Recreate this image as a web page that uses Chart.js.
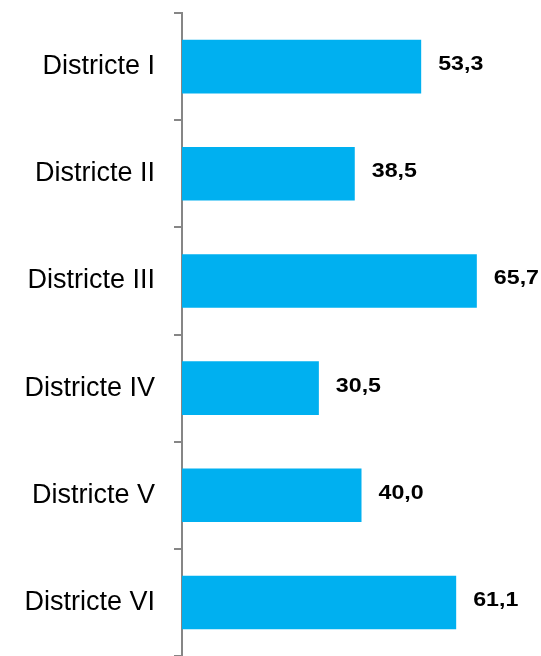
<!DOCTYPE html>
<html>
<head>
<meta charset="utf-8">
<script src="https://cdn.jsdelivr.net/npm/chart.js@4/dist/chart.umd.min.js"></script>
<style>
  html, body { margin:0; padding:0; background:#fff; }
  #wrap { width:541px; height:656px; position:relative; }
</style>
</head>
<body>
<div id="wrap"><canvas id="chart"></canvas></div>
<script>
// --- Données ---
const districts = ['Districte I','Districte II','Districte III','Districte IV','Districte V','Districte VI'];
const valors = [53.3, 38.5, 65.7, 30.5, 40.0, 61.1];
const xMax = 80;

const barColor = '#00B0F0';
const axisColor = '#868686';

// étiquettes de valeur à droite des barres (format 53,3)
const valueLabels = {
  id:'valueLabels',
  afterDatasetsDraw(chart) {
    const ctx = chart.ctx;
    const meta = chart.getDatasetMeta(0);
    ctx.save();
    ctx.font = 'bold 20px "Liberation Sans", Arial, sans-serif';
    ctx.fillStyle = '#000';
    ctx.textBaseline = 'middle';
    ctx.textAlign = 'left';
    meta.data.forEach((bar, i) => {
      const txt = valors[i].toFixed(1).replace('.', ',');
      ctx.save();
      ctx.translate(bar.x + 17, bar.y - 2);
      ctx.scale(1.16, 1); // police un peu élargie
      ctx.fillText(txt, 0, 0);
      ctx.restore();
    });
    ctx.restore();
  }
};

const chart = new Chart(document.getElementById('chart'), {
  type:'bar',
  data:{
    labels:districts,
    datasets:[{ data:valors, backgroundColor:barColor, borderWidth:0, categoryPercentage:1, barPercentage:0.5 }]
  },
  options:{
    indexAxis:'y',
    responsive:true,
    maintainAspectRatio:false,
    animation:false,
    layout:{ padding:{ top:13, right:0, bottom:0, left:0 } },
    plugins:{ legend:{ display:false }, tooltip:{ enabled:false } },
    scales:{
      x:{ display:false, min:0, max:xMax },
      y:{
        grid:{ drawOnChartArea:false, drawTicks:true, tickLength:8, color:axisColor, lineWidth:2, offset:true },
        border:{ display:true, color:axisColor, width:2 },
        ticks:{ color:'#000', padding:19, font:{ family:'"Liberation Sans", Arial, sans-serif', size:27 } },
        afterFit(scale) {
          scale.width = 182;
          scale.paddingTop = 0;
          scale.paddingBottom = 0;
        }
      }
    }
  },
  plugins:[valueLabels]
});
</script>
</body>
</html>
